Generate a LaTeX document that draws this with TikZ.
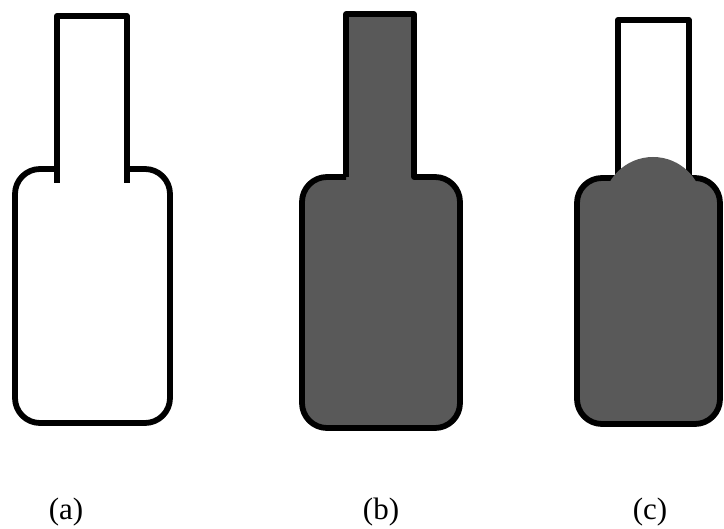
\documentclass[tikz,border=0pt]{standalone}
\usepackage{fontspec}
\setmainfont{Liberation Serif}
\definecolor{fillgray}{RGB}{89,89,89}
\begin{document}
\begin{tikzpicture}[x=1pt,y=-1pt,
  outline/.style={line width=5.8pt,line join=round,draw=black},
  lbl/.style={font=\fontsize{31}{37}\selectfont,inner sep=0pt}]
\useasboundingbox (0,0) rectangle (724,529);
% (a) empty bottle
\draw[outline] (57,183) -- (57,16) -- (127,16) -- (127,183);
\draw[outline,rounded corners=25pt] (57,169) -- (15,169) -- (15,423) -- (170,423) -- (170,169) -- (127,169);
% (b) full bottle
\fill[fillgray,rounded corners=25pt] (302,177) rectangle (460,428);
\fill[fillgray] (346,14) rectangle (414,180);
\draw[outline] (346,177) -- (346,14) -- (414,14) -- (414,177)
  [rounded corners=25pt] -- (460,177) -- (460,428) -- (302,428) -- (302,177) [sharp corners] -- (346,177);
% (c) bottle with dome
\fill[fillgray,rounded corners=25pt] (577,178) rectangle (720,424);
\draw[outline,fill=white] (618,178) -- (618,20) -- (689,20) -- (689,178);
\draw[outline,rounded corners=25pt] (618,178) -- (577,178) -- (577,424) -- (720,424) -- (720,178) -- (689,178);
\fill[fillgray] (653,207) circle (50);
% labels
\node[lbl] (la) at (66,512) {(a)};
\node[lbl] (lb) at (381,512) {(b)};
\node[lbl] (lc) at (650,512) {(c)};
\end{tikzpicture}
\end{document}
